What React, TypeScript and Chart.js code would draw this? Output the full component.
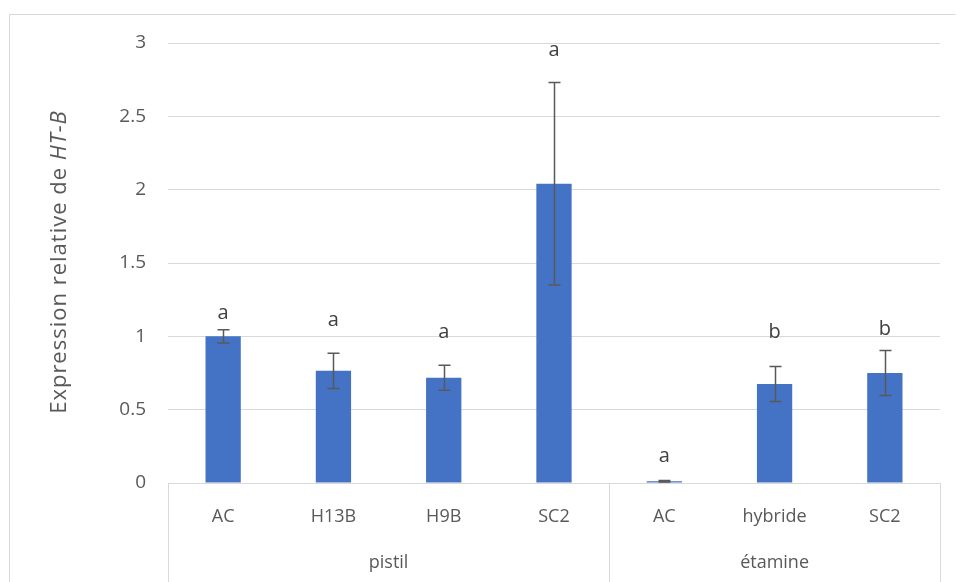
import React, { useEffect, useRef } from "react";
import { Chart, registerables } from "chart.js";

Chart.register(...registerables);

const groups = ["pistil", "étamine"];
const groupSizes = [4, 3];
const categories = ["AC", "H13B", "H9B", "SC2", "AC", "hybride", "SC2"];
const values = [1.0, 0.765, 0.717, 2.04, 0.012, 0.675, 0.75];
const errors = [0.045, 0.12, 0.085, 0.69, 0.005, 0.12, 0.153];
const letters = ["a", "a", "a", "a", "a", "b", "b"];
const letterPos = [1.16, 1.11, 1.03, 2.95, 0.18, 1.03, 1.05];
const yTicks = [0, 0.5, 1, 1.5, 2, 2.5, 3];
const yTitleMain = "Expression relative de ";
const yTitleItalic = "HT-B";

const FONT = "'Open Sans', 'Noto Sans', sans-serif";
const GRID = "#d9d9d9";
const TEXT = "#595959";

const overlay = {
  id: "overlay",
  afterDraw(chart: any) {
    const ctx = chart.ctx as CanvasRenderingContext2D;
    const area = chart.chartArea;
    const y = chart.scales.y;
    const meta = chart.getDatasetMeta(0);
    ctx.save();

    // outer chart border
    ctx.strokeStyle = GRID;
    ctx.lineWidth = 1;
    ctx.beginPath();
    ctx.moveTo(9.5, chart.height + 2);
    ctx.lineTo(9.5, 14.5);
    ctx.lineTo(chart.width - 1.5, 14.5);
    ctx.stroke();

    // error bars
    ctx.strokeStyle = "#595959";
    ctx.lineWidth = 1.5;
    meta.data.forEach((bar: any, i: number) => {
      const x = Math.round(bar.x) + 0.5;
      const yt = y.getPixelForValue(values[i] + errors[i]);
      const yb = y.getPixelForValue(values[i] - errors[i]);
      ctx.beginPath();
      ctx.moveTo(x, yt);
      ctx.lineTo(x, yb);
      ctx.moveTo(x - 6, yt);
      ctx.lineTo(x + 6, yt);
      ctx.moveTo(x - 6, yb);
      ctx.lineTo(x + 6, yb);
      ctx.stroke();
    });

    // significance letters
    ctx.fillStyle = "#404040";
    ctx.font = `20px ${FONT}`;
    ctx.textAlign = "center";
    ctx.textBaseline = "middle";
    meta.data.forEach((bar: any, i: number) => {
      ctx.fillText(letters[i], bar.x, y.getPixelForValue(letterPos[i]));
    });

    // multi-level category axis
    const step = meta.data.length > 1 ? meta.data[1].x - meta.data[0].x : area.right - area.left;
    ctx.strokeStyle = GRID;
    ctx.lineWidth = 1;
    ctx.beginPath();
    ctx.moveTo(area.left, area.bottom + 0.5);
    ctx.lineTo(area.right, area.bottom + 0.5);
    ctx.stroke();
    ctx.fillStyle = TEXT;
    ctx.font = `18px ${FONT}`;
    meta.data.forEach((bar: any, i: number) => {
      ctx.fillText(categories[i], bar.x, area.bottom + 34);
    });
    let start = 0;
    const bounds: number[] = [];
    groups.forEach((g, gi) => {
      const first = meta.data[start];
      const last = meta.data[start + groupSizes[gi] - 1];
      const x0 = first.x - step / 2;
      const x1 = last.x + step / 2;
      bounds.push(x0, x1);
      ctx.fillText(g, (x0 + x1) / 2, area.bottom + 80);
      start += groupSizes[gi];
    });
    ctx.beginPath();
    Array.from(new Set(bounds.map((b) => Math.round(b)))).forEach((bx) => {
      ctx.moveTo(bx + 0.5, area.bottom);
      ctx.lineTo(bx + 0.5, chart.height);
    });
    ctx.stroke();

    // y axis title with italic gene name
    (ctx as any).letterSpacing = "1px";
    ctx.font = `22px ${FONT}`;
    const w1 = ctx.measureText(yTitleMain).width;
    ctx.font = `italic 22px ${FONT}`;
    const w2 = ctx.measureText(yTitleItalic).width;
    ctx.translate(66, (area.top + area.bottom) / 2 - 1);
    ctx.rotate(-Math.PI / 2);
    ctx.textAlign = "left";
    ctx.textBaseline = "alphabetic";
    ctx.fillStyle = TEXT;
    ctx.font = `22px ${FONT}`;
    ctx.fillText(yTitleMain, -(w1 + w2) / 2, 0);
    ctx.font = `italic 22px ${FONT}`;
    ctx.fillText(yTitleItalic, -(w1 + w2) / 2 + w1, 0);
    (ctx as any).letterSpacing = "0px";

    ctx.restore();
  },
};

export default function App() {
  const ref = useRef<HTMLCanvasElement | null>(null);
  useEffect(() => {
    if (!ref.current) return;
    const chart = new Chart(ref.current, {
      type: "bar",
      data: {
        labels: categories,
        datasets: [
          {
            data: values,
            backgroundColor: "#4472C4",
            borderWidth: 0,
            barPercentage: 0.32,
            categoryPercentage: 1,
          },
        ],
      },
      options: {
        animation: false,
        responsive: false,
        maintainAspectRatio: false,
        layout: { padding: { left: 10, top: 43, right: 17, bottom: 0 } },
        plugins: { legend: { display: false }, tooltip: { enabled: false } },
        scales: {
          x: {
            grid: { display: false },
            border: { display: false },
            ticks: { display: false },
            afterFit: (s: any) => {
              s.height = 99;
            },
          },
          y: {
            min: 0,
            max: 3,
            afterBuildTicks: (s: any) => {
              s.ticks = yTicks.map((v) => ({ value: v }));
            },
            grid: { color: GRID, lineWidth: 1, drawTicks: false },
            border: { display: false },
            ticks: {
              color: TEXT,
              padding: 22,
              font: { family: FONT, size: 19 },
              callback: (v: any) => String(v),
            },
            afterFit: (s: any) => {
              s.width = 158;
            },
          },
        },
      },
      plugins: [overlay],
    });
    return () => chart.destroy();
  }, []);
  return (
    <div style={{ position: "fixed", left: 0, top: 0, width: 957, height: 582, background: "#fff" }}>
      <canvas ref={ref} width={957} height={582} style={{ width: 957, height: 582, display: "block" }} />
    </div>
  );
}
